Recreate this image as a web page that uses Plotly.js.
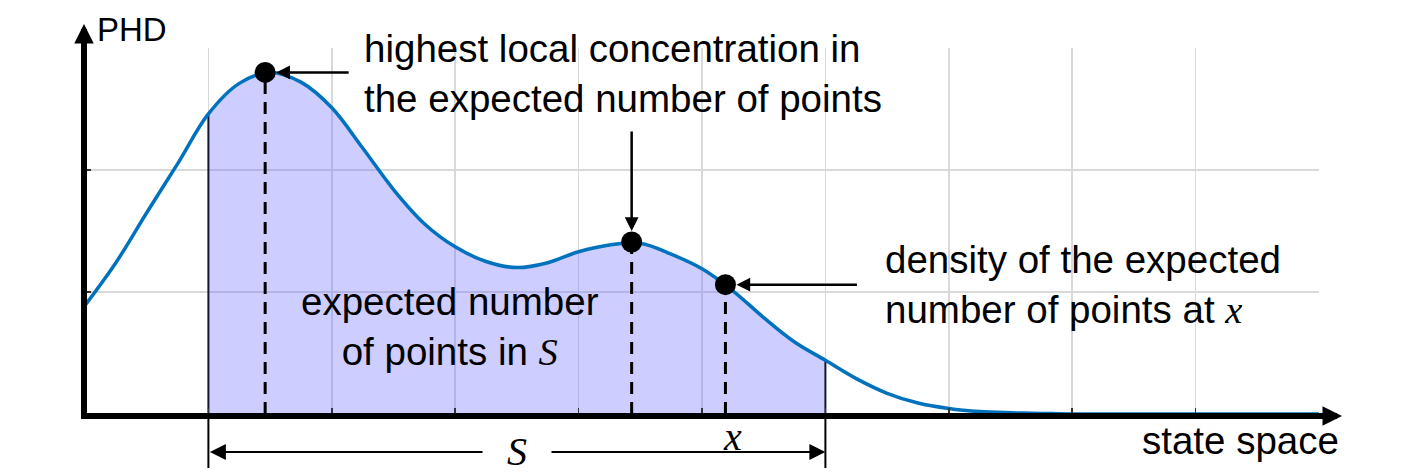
<!DOCTYPE html>
<html>
<head>
<meta charset="utf-8">
<script src="https://cdn.plot.ly/plotly-3.0.1.min.js"></script>
<style>html,body{margin:0;padding:0;background:#fff;}#chart{width:1418px;height:473px;}</style>
</head>
<body>
<div id="chart"></div>
<script>
// ---- data ----
const curveX = [0, 0.25, 0.5, 0.75, 1, 1.25, 1.5, 1.75, 2, 2.25, 2.5, 2.75, 3, 3.25, 3.5, 3.75, 4, 4.25, 4.5, 4.75, 5, 5.25, 5.5, 5.75, 6, 6.25, 6.5, 6.75, 7, 7.25, 7.5, 7.75, 8, 8.5, 9, 9.5, 10];
const curveY = [0.89, 1.24, 1.65, 2.05, 2.46, 2.71, 2.80, 2.72, 2.51, 2.18, 1.84, 1.56, 1.37, 1.25, 1.20, 1.24, 1.33, 1.385, 1.40, 1.31, 1.19, 1.01, 0.79, 0.59, 0.44, 0.29, 0.17, 0.09, 0.045, 0.02, 0.01, 0.005, 0, 0, 0, 0, 0];
const regionS = [1, 6];               // set S
const markedX = [1.46, 4.43, 5.19];   // peak, second peak, point x
const markedY = [2.80, 1.41, 1.06];
const xTicks = [0,1,2,3,4,5,6,7,8,9,10];
const yTicks = [0,1,2,3];

// ---- geometry helpers ----
const W = 1418, H = 473;
const M = {l:85, r:99, t:48, b:59};
const PW = W - M.l - M.r, PH = H - M.t - M.b;
const XR = [0, 10], YR = [0, 3];
const px2x = p => (p - M.l) / PW;            // pixel -> paper x
const py2y = p => (H - M.b - p) / PH;        // pixel -> paper y
const dx2x = v => (v - XR[0]) / (XR[1] - XR[0]); // data -> paper x
const xUnitPx = PW / (XR[1] - XR[0]);
const yOf = x => curveY[curveX.indexOf(x)];

const shadeX = curveX.filter(x => x >= regionS[0] && x <= regionS[1]);
const shadeY = shadeX.map(yOf);

const SANS = "'Liberation Sans', Arial, sans-serif";
const SERIF = "Liberation Serif";
const BLUE = '#0072BD';
const FS = 38.5;

const traces = [];
traces.push({x: shadeX, y: shadeY, mode: 'lines', line: {width: 0, shape: 'spline', smoothing: 1}, fill: 'tozeroy', fillcolor: 'rgba(102,102,255,0.33)', hoverinfo: 'skip'});
regionS.forEach(x => traces.push({x: [x, x], y: [0, yOf(x)], mode: 'lines', line: {color: '#151530', width: 2}, hoverinfo: 'skip'}));
traces.push({x: curveX, y: curveY, mode: 'lines', line: {color: BLUE, width: 3.5, shape: 'spline', smoothing: 1}, hoverinfo: 'skip'});
markedX.forEach((x, i) => traces.push({x: [x, x], y: [0, markedY[i]], mode: 'lines', line: {color: '#000', width: 3, dash: '12px,8px'}, hoverinfo: 'skip'}));
traces.push({x: markedX, y: markedY, mode: 'markers', marker: {color: '#000', size: 21}, hoverinfo: 'skip'});

const shapes = [
  // white text backgrounds (hide grid only)
  {type: 'rect', xref: 'paper', yref: 'paper', x0: px2x(348), x1: px2x(922), y0: py2y(119), y1: py2y(20), fillcolor: '#fff', line: {width: 0}, layer: 'between'},
  {type: 'rect', xref: 'paper', yref: 'paper', x0: px2x(868), x1: px2x(1300), y0: py2y(343), y1: py2y(228), fillcolor: '#fff', line: {width: 0}, layer: 'between'},
  // axes
  {type: 'line', xref: 'paper', yref: 'paper', x0: px2x(81), x1: px2x(1330), y0: py2y(416), y1: py2y(416), line: {color: '#000', width: 6}, layer: 'above'},
  {type: 'line', xref: 'paper', yref: 'paper', x0: px2x(84), x1: px2x(84), y0: py2y(419), y1: py2y(40), line: {color: '#000', width: 6}, layer: 'above'},
];
// bracket verticals for S
regionS.forEach(x => shapes.push({type: 'line', xref: 'paper', yref: 'paper', x0: dx2x(x), x1: dx2x(x), y0: py2y(418), y1: py2y(468), line: {color: '#000', width: 2}, layer: 'above'}));

const txt = (text, xpx, ypx, opts) => Object.assign({text, xref: 'paper', yref: 'paper', x: px2x(xpx), y: py2y(ypx), showarrow: false, font: {family: SANS, size: FS, color: '#000'}, xanchor: 'left', yanchor: 'middle', align: 'left'}, opts || {});
const arrow = (x, y, ax, ay, extra) => Object.assign({text: '', x, y, xref: 'x', yref: 'y', ax, ay, axref: 'pixel', ayref: 'pixel', showarrow: true, arrowhead: 2, arrowsize: 1.1, arrowwidth: 2.5, arrowcolor: '#000', standoff: 11}, extra || {});

const annotations = [
  txt('PHD', 95, 30, {font: {family: SANS, size: 33, color: '#000'}}),
  txt('highest local concentration in<br>the expected number of points', 362, 74),
  txt('density of the expected<br>number of points at <span style="font-family:' + SERIF + '"><i>x</i></span>', 883, 284),
  txt('expected number<br>of points in <span style="font-family:' + SERIF + '"><i>S</i></span>', 450, 326, {xanchor: 'center', align: 'center'}),
  txt('state space', 1240, 440, {xanchor: 'center', align: 'center'}),
  txt('<i>x</i>', 733, 436, {xanchor: 'center', font: {family: SERIF, size: 40, color: '#000'}}),
  // callout arrows
  arrow(markedX[0], markedY[0], 85, 0),
  arrow(markedX[1], markedY[1], 0, -112),
  arrow(markedX[2], markedY[2], 133, 0),
  // S bracket double arrow
  {text: '', xref: 'paper', yref: 'paper', x: dx2x(regionS[1]), y: py2y(452), ax: -(regionS[1] - regionS[0]) * xUnitPx, ay: 0, axref: 'pixel', ayref: 'pixel', showarrow: true, arrowside: 'end+start', arrowhead: 2, startarrowhead: 2, arrowsize: 1.6, startarrowsize: 1.6, arrowwidth: 2, arrowcolor: '#000'},
  txt('&nbsp;&nbsp;<i>S</i>&nbsp;&nbsp;', 517, 452, {xanchor: 'center', align: 'center', bgcolor: '#fff', borderpad: 4, font: {family: SERIF, size: 40, color: '#000'}}),
  // axis arrowheads
  {text: '', xref: 'paper', yref: 'paper', x: px2x(1342), y: py2y(416), ax: -40, ay: 0, axref: 'pixel', ayref: 'pixel', showarrow: true, arrowhead: 2, arrowsize: 0.65, arrowwidth: 6, arrowcolor: '#000'},
  {text: '', xref: 'paper', yref: 'paper', x: px2x(84), y: py2y(24), ax: 0, ay: 40, axref: 'pixel', ayref: 'pixel', showarrow: true, arrowhead: 2, arrowsize: 0.65, arrowwidth: 6, arrowcolor: '#000'},
];

const axisCommon = {showgrid: true, gridcolor: '#d9d9d9', gridwidth: 1.5, zeroline: false, showline: false, ticks: 'inside', ticklen: 6, tickwidth: 1.5, tickcolor: '#333', showticklabels: false, tickmode: 'array', fixedrange: true};

const layout = {
  width: W, height: H, margin: M,
  paper_bgcolor: '#fff', plot_bgcolor: '#fff', showlegend: false,
  xaxis: Object.assign({}, axisCommon, {range: XR, tickvals: xTicks}),
  yaxis: Object.assign({}, axisCommon, {range: YR, tickvals: yTicks}),
  shapes, annotations,
  font: {family: SANS}
};

Plotly.newPlot('chart', traces, layout, {displayModeBar: false, staticPlot: true});
</script>
</body>
</html>
